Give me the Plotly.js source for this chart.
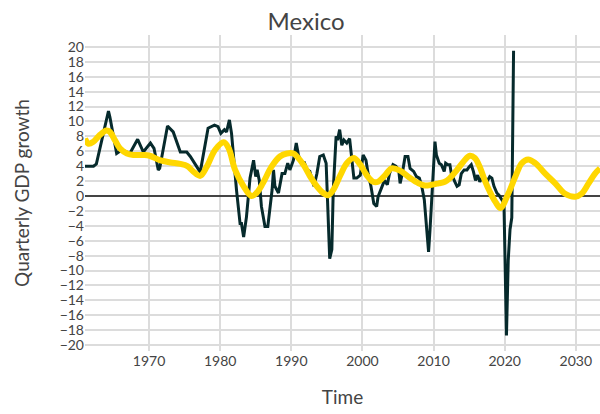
<!DOCTYPE html>
<html>
<head>
<meta charset="utf-8">
<script src="https://cdn.plot.ly/plotly-3.0.1.min.js"></script>
<style>html,body{margin:0;padding:0;background:#fff}#chart{width:600px;height:414px}</style>
</head>
<body>
<div id="chart"></div>
<script>
const gdpTime = [1961.0,1962.2,1962.6,1964.3,1964.5,1965.45,1966.2,1967.3,1968.4,1969.2,1970.2,1970.7,1971.3,1971.5,1972.6,1973.4,1974.4,1975.3,1975.8,1977.2,1978.3,1979.2,1979.7,1980.1,1980.6,1980.9,1981.3,1981.6,1982.3,1982.8,1983.0,1983.3,1983.7,1984.2,1984.7,1985.0,1985.2,1985.5,1985.8,1986.3,1986.7,1987.3,1987.5,1987.7,1988.2,1988.7,1989.1,1989.5,1989.8,1990.3,1990.7,1991.0,1991.5,1991.8,1992.2,1992.6,1993.2,1993.6,1994.0,1994.5,1994.9,1995.2,1995.4,1995.7,1995.9,1996.3,1996.5,1996.8,1997.1,1997.4,1997.8,1998.2,1998.5,1998.8,1999.2,1999.7,2000.1,2000.5,2000.8,2001.2,2001.6,2002.0,2002.2,2002.7,2003.1,2003.5,2003.8,2004.3,2004.7,2005.1,2005.3,2005.6,2006.0,2006.4,2006.7,2007.2,2007.6,2008.0,2008.3,2008.7,2009.0,2009.3,2009.5,2009.8,2010.2,2010.4,2010.8,2011.1,2011.5,2011.7,2012.0,2012.3,2012.5,2013.0,2013.3,2013.6,2013.9,2014.3,2014.7,2015.0,2015.3,2015.6,2015.9,2016.2,2016.5,2016.8,2017.1,2017.5,2017.9,2018.2,2018.5,2018.9,2019.2,2019.6,2019.9,2020.25,2020.5,2020.75,2021.0,2021.25];
const gdpGrowth = [4.0,4.0,4.3,11.4,10.6,5.7,6.2,5.7,7.6,5.9,7.1,6.4,3.5,3.7,9.4,8.6,5.9,5.9,5.3,3.2,9.1,9.5,9.3,8.4,8.9,8.6,10.2,8.4,0.8,-3.7,-3.7,-5.5,-2.8,2.4,4.8,2.6,3.5,2.1,-1.4,-4.1,-4.1,0.8,3.5,1.3,0.4,3.0,3.0,4.4,3.5,4.8,7.1,5.5,4.2,4.6,3.5,3.3,1.3,3.0,5.3,5.5,4.4,-3.7,-8.4,-7.2,0.8,8.0,7.5,8.9,6.8,7.5,7.1,7.7,5.3,2.4,2.4,2.8,5.5,4.8,3.0,1.3,-1.0,-1.4,-0.1,1.0,2.1,1.5,3.0,4.2,4.0,3.5,1.7,3.0,5.3,5.3,3.7,3.3,2.6,2.4,1.5,-0.5,-4.1,-7.5,-4.6,1.3,7.3,5.5,4.4,4.2,3.3,4.4,4.2,4.2,3.0,1.9,1.3,1.5,3.0,3.5,3.5,3.9,4.2,3.3,2.1,2.8,1.9,2.4,2.6,1.9,2.6,2.4,1.3,0.4,0.1,-0.5,-1.0,-18.7,-8.6,-4.5,-2.9,19.5];

const trendTime = [1961.0,1961.5,1962.2,1963.1,1964.0,1964.5,1965.2,1965.9,1966.9,1967.8,1969.2,1970.1,1971.5,1973.0,1974.4,1975.4,1976.2,1977.2,1978.1,1979.3,1980.5,1981.2,1982.1,1983.3,1984.4,1985.1,1986.0,1987.2,1988.4,1989.4,1990.3,1990.8,1991.7,1992.6,1993.6,1994.5,1995.2,1995.9,1996.9,1997.8,1998.8,1999.7,2000.6,2001.5,2002.2,2003.2,2004.1,2005.3,2006.7,2007.9,2008.8,2009.7,2010.7,2011.6,2012.3,2013.3,2014.2,2015.1,2015.8,2016.5,2017.2,2017.9,2018.7,2019.4,2020.5,2021.5,2022.4,2023.3,2024.3,2025.7,2027.1,2028.5,2029.9,2030.8,2031.8,2032.7,2033.4];
const trendValue = [7.7,7.0,7.3,8.2,8.8,8.6,7.5,6.4,5.7,5.5,5.5,5.4,4.8,4.5,4.3,4.0,3.3,2.7,3.9,6.2,7.2,6.4,3.5,1.3,0.0,0.4,1.7,3.9,5.3,5.7,5.7,5.3,4.2,2.7,1.3,0.4,0.1,0.8,2.8,4.4,5.1,4.2,2.8,1.9,1.9,2.8,3.7,3.4,2.4,1.7,1.4,1.5,1.7,1.9,2.4,3.5,4.6,5.4,5.1,3.9,2.1,0.6,-0.8,-1.6,0.3,2.6,4.4,4.9,4.4,3.0,1.7,0.3,-0.1,0.3,1.7,3.0,3.7];

const yTickVals = [-20,-18,-16,-14,-12,-10,-8,-6,-4,-2,0,2,4,6,8,10,12,14,16,18,20];
const xTickVals = [1970,1980,1990,2000,2010,2020,2030];

const FONT = 'Lato, sans-serif';

Plotly.newPlot('chart', [
  {x: gdpTime, y: gdpGrowth, type: 'scatter', mode: 'lines',
   line: {color: '#062a2c', width: 3}, hoverinfo: 'skip'},
  {x: trendTime, y: trendValue, type: 'scatter', mode: 'lines',
   line: {color: '#ffd700', width: 6, shape: 'spline', smoothing: 1}, hoverinfo: 'skip'}
], {
  width: 600, height: 414,
  margin: {l: 85, r: 0, t: 35, b: 63},
  showlegend: false,
  paper_bgcolor: '#fff', plot_bgcolor: '#fff',
  font: {family: FONT, color: '#444', size: 14},
  title: {text: 'Mexico', font: {family: FONT, size: 24, color: '#444'},
          x: 0.51, xref: 'container', y: 0.947, yref: 'container', yanchor: 'middle'},
  xaxis: {
    range: [1961, 2033.4], tickvals: xTickVals, ticktext: xTickVals.map(String),
    showgrid: true, gridcolor: '#dcdcdc', gridwidth: 2, zeroline: false,
    showline: false, ticks: '', tickfont: {size: 14, color: '#444'},
    title: {text: 'Time', font: {size: 19, color: '#444'}, standoff: 22}
  },
  yaxis: {
    range: [-20.8, 21.6], tickvals: yTickVals,
    showgrid: true, gridcolor: '#dcdcdc', gridwidth: 2,
    zeroline: true, zerolinecolor: '#444', zerolinewidth: 2,
    showline: false, ticks: '', tickfont: {size: 14, color: '#444'},
    title: {text: 'Quarterly GDP growth', font: {size: 19, color: '#444'}, standoff: 24}
  }
}, {staticPlot: true, displayModeBar: false});
</script>
</body>
</html>
